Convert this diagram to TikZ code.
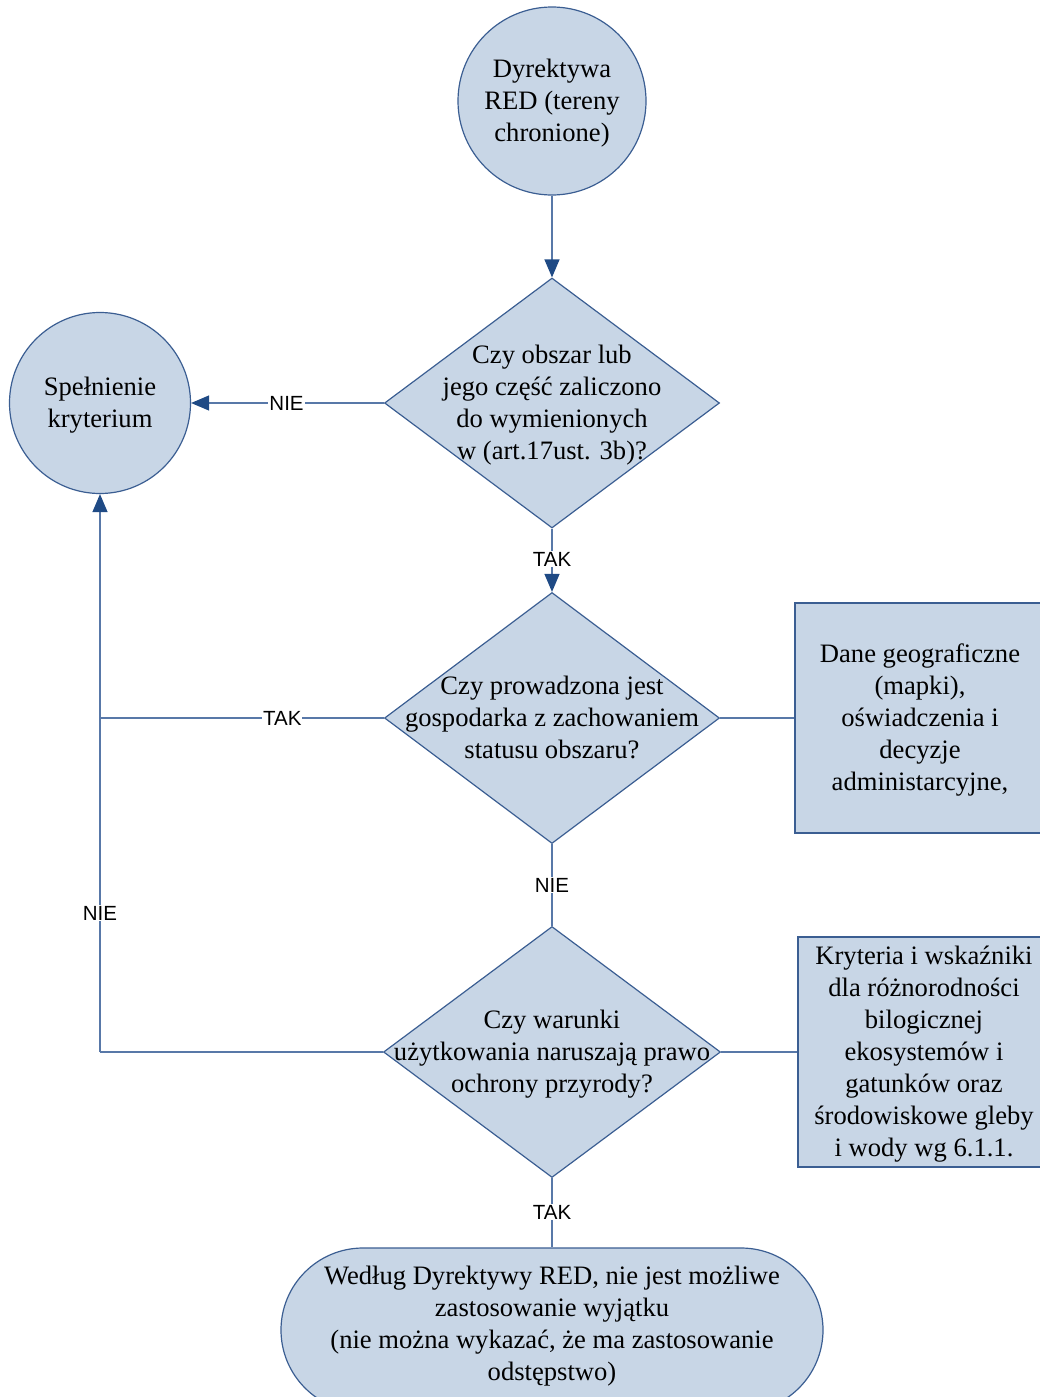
\documentclass[tikz,border=0pt]{standalone}
\usepackage{fontspec}
\setmainfont{Liberation Serif}
\setsansfont{Liberation Sans}
\usetikzlibrary{shapes.geometric,arrows.meta}
\definecolor{fillb}{HTML}{C8D6E6}
\definecolor{edgeb}{HTML}{3B5E92}
\definecolor{lineb}{HTML}{5878A8}
\definecolor{tipb}{HTML}{1F4A85}
\begin{document}
\begin{tikzpicture}[x=1pt,y=-1pt,
  shp/.style={draw=edgeb,fill=fillb,line width=1.2pt,inner sep=0pt},
  circ/.style={shp,circle},
  dia/.style={shp,diamond},
  txt/.style={font=\fontsize{26.6}{32}\selectfont,align=center,text=black,yshift=-2pt},
  lbl/.style={font=\sffamily\fontsize{20.5}{24}\selectfont,fill=white,inner sep=1pt,text=black},
  conn/.style={draw=lineb,line width=1.2pt},
  arr/.style={conn,-{Triangle[length=18pt,width=15pt,color=tipb]}}
]
\useasboundingbox (0,0) rectangle (1039,1397);
\node[circ,minimum size=188pt,label={[txt]center:{Dyrektywa\\RED (tereny\\chronione)}}] (c1) at (552,101) {};
\node[circ,minimum size=181pt,label={[txt]center:{Spełnienie\\kryterium}}] (c2) at (100,403) {};
\node[dia,minimum width=335pt,minimum height=250pt,label={[txt]center:{Czy obszar lub\\jego część zaliczono\\do wymienionych\\w (art.17ust. 3b)?}}] (d1) at (552,403) {};
\node[dia,minimum width=335pt,minimum height=251pt,label={[txt,yshift=3pt]center:{Czy prowadzona jest\\gospodarka z zachowaniem\\statusu obszaru?}}] (d2) at (552,718) {};
\node[dia,minimum width=337pt,minimum height=251pt,label={[txt]center:{Czy warunki\\użytkowania naruszają prawo\\ochrony przyrody?}}] (d3) at (552,1052) {};
\node[shp,rectangle,minimum width=250pt,minimum height=230pt,label={[txt]center:{Dane geograficzne\\(mapki),\\oświadczenia i\\decyzje\\administarcyjne,}}] (r1) at (920,718) {};
\node[shp,rectangle,minimum width=252pt,minimum height=230pt,label={[txt]center:{Kryteria i wskaźniki\\dla różnorodności\\bilogicznej\\ekosystemów i\\gatunków oraz\\środowiskowe gleby\\i wody wg 6.1.1.}}] (r2) at (924,1052) {};
\node[shp,rectangle,rounded corners=82pt,minimum width=542pt,minimum height=164pt] (t) at (552,1330) {};
\node[txt] at (552,1324) {Według Dyrektywy RED, nie jest możliwe\\zastosowanie wyjątku\\(nie można wykazać, że ma zastosowanie\\odstępstwo)};
\coordinate (j2) at (100,718);
\coordinate (j3) at (100,1052);
\draw[arr] (c1.south) -- (d1.north);
\draw[arr] (d1.west) -- node[lbl,pos=0.505]{NIE} (c2.east);
\draw[arr] (d1.south) -- node[lbl,pos=0.48]{TAK} (d2.north);
\draw[conn] (d2.south) -- node[lbl]{NIE} (d3.north);
\draw[conn] (d2.west) -- node[lbl,pos=0.358]{TAK} (j2);
\draw[conn] (d3.west) -- (j3);
\draw[arr] (j3) -- node[lbl,pos=0.249]{NIE} (c2.south);
\draw[conn] (d2.east) -- (r1.west);
\draw[conn] (d3.east) -- (r2.west);
\draw[conn] (d3.south) -- node[lbl,pos=0.49]{TAK} (t.north);
\end{tikzpicture}
\end{document}
